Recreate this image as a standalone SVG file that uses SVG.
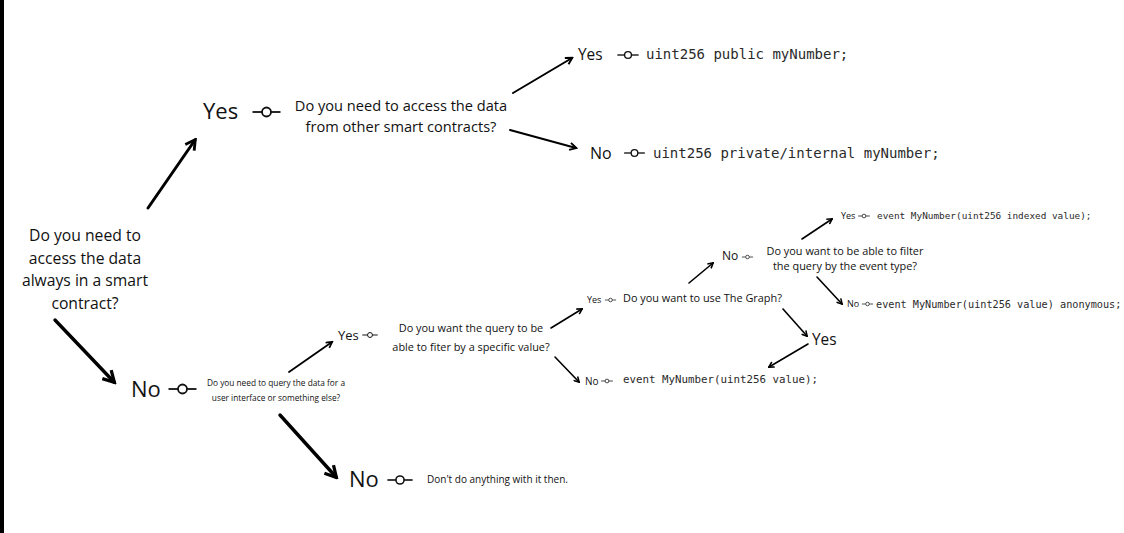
<svg xmlns="http://www.w3.org/2000/svg" xmlns:xlink="http://www.w3.org/1999/xlink" width="1124" height="533" viewBox="0 0 1124 533">
<style>
.t{font-family:"Open Sans","Noto Sans","Liberation Sans",sans-serif;fill:#111}
.m{font-family:"DejaVu Sans Mono","Liberation Mono",monospace;fill:#2a2a2a}
.c{text-anchor:middle}
.a{fill:none;stroke:#000;stroke-linecap:round;marker-end:url(#ah)}
</style>
<defs>
<marker id="ah" viewBox="0 0 8 8" refX="6.5" refY="4" markerWidth="4.5" markerHeight="4.5" orient="auto" markerUnits="strokeWidth">
<path d="M1,0.8 L6.8,4 L1,7.2" fill="none" stroke="#000" stroke-width="1.7" stroke-linejoin="miter"/>
</marker>
<g id="lk" fill="none" stroke="#111" stroke-width="1.8">
<line x1="-14" y1="0" x2="-4.5" y2="0"/>
<circle cx="0" cy="0" r="4.5" fill="#fff"/>
<line x1="4.5" y1="0" x2="14" y2="0"/>
</g>
</defs>
<rect x="0" y="0" width="1124" height="533" fill="#fff"/>
<rect x="0" y="0" width="4" height="533" fill="#000"/>

<g id="connectors">
<line class="a" x1="148" y1="208" x2="195" y2="140" stroke-width="3"/>
<line class="a" x1="55" y1="320" x2="114" y2="382" stroke-width="3.4"/>
<line class="a" x1="280" y1="415" x2="336" y2="477" stroke-width="3.4"/>
<line class="a" x1="513" y1="93" x2="572" y2="58" stroke-width="2"/>
<line class="a" x1="510" y1="130" x2="576" y2="148" stroke-width="2"/>
<line class="a" x1="289" y1="372" x2="332" y2="342" stroke-width="1.8"/>
<line class="a" x1="551" y1="328" x2="582" y2="309" stroke-width="1.6"/>
<line class="a" x1="555" y1="357" x2="579" y2="382" stroke-width="1.6"/>
<line class="a" x1="689" y1="283" x2="713" y2="263" stroke-width="1.6"/>
<line class="a" x1="802" y1="239" x2="832" y2="219" stroke-width="1.6"/>
<line class="a" x1="817" y1="277" x2="842" y2="304" stroke-width="1.6"/>
<line class="a" x1="783" y1="309" x2="807" y2="336" stroke-width="1.6"/>
<line class="a" x1="808" y1="344" x2="769" y2="367" stroke-width="1.6"/>
</g>

<g id="q-root">
<text class="t c" x="85" y="241" font-size="15.7">Do you need to</text>
<text class="t c" x="85" y="264" font-size="15.7">access the data</text>
<text class="t c" x="85" y="286" font-size="15.7">always in a smart</text>
<text class="t c" x="85" y="309" font-size="15.7">contract?</text>
</g>

<g id="yes-1">
<text class="t" x="203" y="119" font-size="22">Yes</text>
<use xlink:href="#lk" transform="translate(266.5,112)"/>
</g>
<g id="q-other-contracts">
<text class="t c" x="401" y="111" font-size="14.6">Do you need to access the data</text>
<text class="t c" x="401" y="132" font-size="14.6">from other smart contracts?</text>
</g>
<g id="yes-public">
<text class="t" x="578" y="60" font-size="15.4">Yes</text>
<use xlink:href="#lk" transform="translate(628,55) scale(0.76)"/>
<text class="m" x="646" y="59" font-size="14">uint256 public myNumber;</text>
</g>
<g id="no-private">
<text class="t" x="590" y="159" font-size="16">No</text>
<use xlink:href="#lk" transform="translate(634.5,153) scale(0.74)"/>
<text class="m" x="653" y="158" font-size="14">uint256 private/internal myNumber;</text>
</g>

<g id="no-1">
<text class="t" x="131" y="397" font-size="22">No</text>
<use xlink:href="#lk" transform="translate(182.5,389)"/>
</g>
<g id="q-ui">
<text class="t c" x="276" y="386" font-size="8.3">Do you need to query the data for a</text>
<text class="t c" x="276" y="401" font-size="8.3">user interface or something else?</text>
</g>
<g id="no-nothing">
<text class="t" x="349" y="487" font-size="22">No</text>
<use xlink:href="#lk" transform="translate(400,480) scale(0.9)"/>
<text class="t" x="427" y="483" font-size="10">Don't do anything with it then.</text>
</g>
<g id="yes-2">
<text class="t" x="338" y="340" font-size="13">Yes</text>
<use xlink:href="#lk" transform="translate(370,335) scale(0.55)"/>
</g>
<g id="q-specific-value">
<text class="t c" x="471" y="332" font-size="10.9">Do you want the query to be</text>
<text class="t c" x="471" y="351" font-size="10.9">able to fiter by a specific value?</text>
</g>
<g id="yes-3">
<text class="t" x="587" y="303" font-size="9">Yes</text>
<use xlink:href="#lk" transform="translate(610.5,300) scale(0.4)"/>
</g>
<g id="q-graph">
<text class="t" x="623" y="302" font-size="10.9">Do you want to use The Graph?</text>
</g>
<g id="no-value">
<text class="t" x="585" y="385" font-size="10">No</text>
<use xlink:href="#lk" transform="translate(607,381) scale(0.42)"/>
<text class="m" x="623" y="383" font-size="10.8">event MyNumber(uint256 value);</text>
</g>
<g id="no-graph">
<text class="t" x="722" y="260" font-size="12">No</text>
<use xlink:href="#lk" transform="translate(747.5,257) scale(0.4)"/>
</g>
<g id="q-event-type">
<text class="t c" x="845" y="255" font-size="10.9">Do you want to be able to filter</text>
<text class="t c" x="845" y="270" font-size="10.9">the query by the event type?</text>
</g>
<g id="yes-indexed">
<text class="t" x="841" y="219" font-size="9">Yes</text>
<use xlink:href="#lk" transform="translate(864,216) scale(0.42)"/>
<text class="m" x="877" y="219" font-size="9.4">event MyNumber(uint256 indexed value);</text>
</g>
<g id="no-anonymous">
<text class="t" x="847" y="307" font-size="9">No</text>
<use xlink:href="#lk" transform="translate(867.5,304) scale(0.4)"/>
<text class="m" x="876" y="308" font-size="10.2">event MyNumber(uint256 value) anonymous;</text>
</g>
<g id="yes-graph">
<text class="t" x="812" y="345" font-size="15.4">Yes</text>
</g>
</svg>
